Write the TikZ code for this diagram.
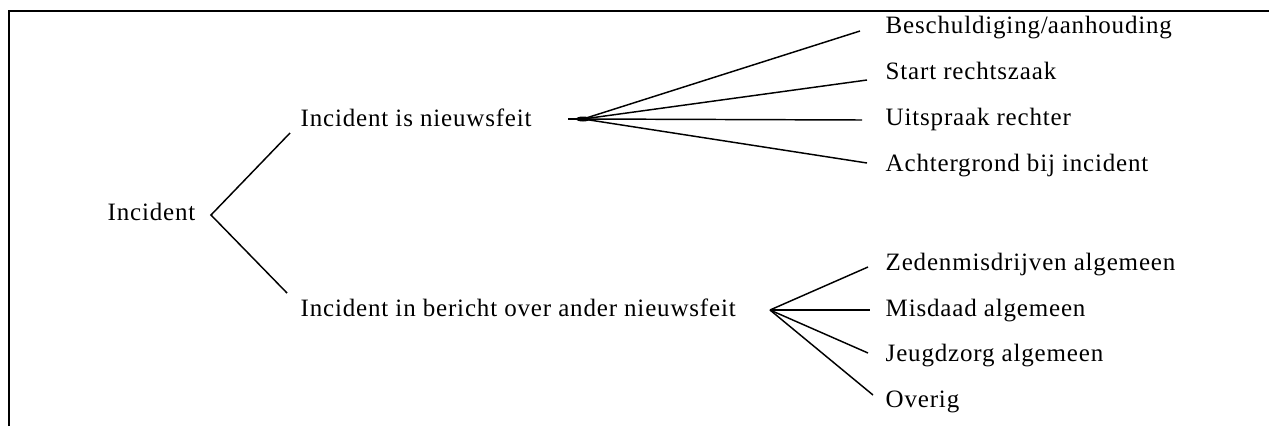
\documentclass[tikz,border=0pt]{standalone}
\usepackage{fontspec}
\setmainfont{Liberation Serif}[LetterSpace=3.3]
\begin{document}
\begin{tikzpicture}[x=0.75pt,y=-0.75pt,line width=1.1pt,
  lbl/.style={anchor=base west,inner sep=0pt,font=\fontsize{18.75}{22}\selectfont}]
\useasboundingbox (0,0) rectangle (1269,426);
\draw[line width=1.6pt] (9,426)--(9,11)--(1269,11);
% left part
\node[lbl] (inc) at (107,220) {Incident};
\node[lbl] (nws) at (300,126) {Incident is nieuwsfeit};
\node[lbl] (ber) at (300,316) {Incident in bericht over ander nieuwsfeit};
\coordinate (r) at (211,215);
\coordinate (nws-e) at (290,133);
\coordinate (ber-e) at (287,293);
\draw (nws-e)--(r)--(ber-e);
% fan 1
\coordinate (f1) at (583,119);
\coordinate (f1t) at (568,119);
\draw (f1t)--(f1);
\fill (f1) ellipse (7 and 2.5);
\foreach \n/\y/\ex/\ey/\t in {1/33/860/31/Beschuldiging\slash aanhouding,
  2/79/867/80/Start rechtszaak, 3/125/862/120/Uitspraak rechter,
  4/171/867/163/Achtergrond bij incident}{
\node[lbl] (a\n) at (885,\y) {\t};
\coordinate (a\n-e) at (\ex,\ey);
\draw (f1)--(a\n-e);
}
% fan 2
\coordinate (f2) at (770,310);
\foreach \n/\y/\ex/\ey/\t in {1/270/868/267/Zedenmisdrijven algemeen,
  2/316/870/310/Misdaad algemeen, 3/361/868/353/Jeugdzorg algemeen,
  4/407/873/395/Overig}{
\node[lbl] (b\n) at (885,\y) {\t};
\coordinate (b\n-e) at (\ex,\ey);
\draw (f2)--(b\n-e);
}
\end{tikzpicture}
\end{document}
